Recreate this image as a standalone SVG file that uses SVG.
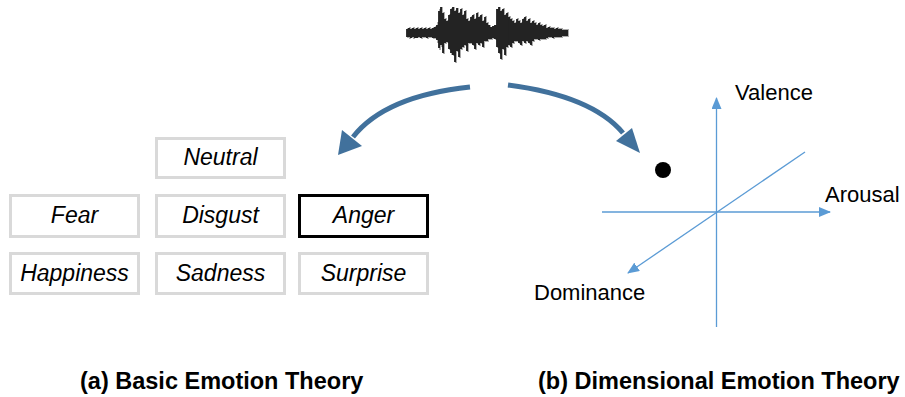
<svg xmlns="http://www.w3.org/2000/svg" width="905" height="397" viewBox="0 0 905 397">
  <style>
    .box { fill: #ffffff; stroke: #d9d9d9; stroke-width: 3; }
    .box.active { stroke: #000000; }
    .emo { font-family: "Liberation Sans", Arial, sans-serif; font-size: 23px; font-style: italic; fill: #000000; text-anchor: middle; }
    .axis { stroke: #5b9bd5; stroke-width: 1.3; fill: none; }
    .axlabel { font-family: "Liberation Sans", Arial, sans-serif; font-size: 22px; fill: #000000; }
    .caption { font-family: "Liberation Sans", Arial, sans-serif; font-size: 23.5px; font-weight: bold; fill: #000000; }
    .flow { stroke: #41719c; stroke-width: 5; fill: none; }
    .flowhead { fill: #41719c; }
  </style>
  <defs>
    <marker id="axhead" markerWidth="12" markerHeight="10" refX="11" refY="5" orient="auto" markerUnits="userSpaceOnUse">
      <path d="M0,0 L12,5 L0,10 Z" fill="#5b9bd5"/>
    </marker>
  </defs>
  <rect width="905" height="397" fill="#ffffff"/>

  <!-- speech waveform -->
  <g id="waveform">
    <path stroke="#8a8a8a" stroke-width="1.4" fill="none" d="M408 28V38 M410 27V39 M412 28V38 M414 27V39 M416 28V38 M418 27V38 M420 28V38 M422 27V39 M424 28V38 M426 27V38 M428 28V39 M430 27V38 M432 28V38 M434 27V39 M436 26V39 M438 22V43 M440 9V50 M442 7V47 M444 12V54 M446 18V44 M448 20V43 M450 14V50 M452 8V55 M454 7V56 M456 10V63 M458 8V52 M460 12V58 M462 8V50 M464 14V48 M466 10V46 M468 18V52 M470 20V44 M472 16V44 M474 14V46 M476 18V50 M478 12V44 M480 16V46 M482 14V44 M484 20V48 M486 16V42 M488 22V42 M490 25V40 M492 27V40 M494 26V39 M496 25V40 M498 9V48 M500 7V54 M502 10V60 M504 8V50 M506 14V56 M508 12V48 M510 16V46 M512 18V48 M514 20V44 M516 22V42 M518 18V42 M520 20V44 M522 22V46 M524 18V42 M526 16V44 M528 20V42 M530 18V44 M532 22V46 M534 20V42 M536 22V40 M538 24V40 M540 22V41 M542 24V40 M544 25V40 M546 24V40 M548 27V39 M550 26V38 M552 27V38 M554 27V39 M556 28V38 M558 27V38 M560 28V38 M562 28V38 M564 29V37 M566 29V37 M568 29V37"/>
    <path stroke="#000000" stroke-width="1.6" fill="none" d="M407 29V37 M409 28V37 M411 29V38 M413 28V37 M415 29V38 M417 28V38 M419 29V37 M421 28V38 M423 29V37 M425 28V37 M427 29V38 M429 28V37 M431 29V37 M433 28V38 M435 27V38 M437 25V40 M439 11V48 M441 7V45 M443 13V53 M445 19V43 M447 21V42 M449 15V49 M451 9V53 M453 7V55 M455 11V62 M457 8V51 M459 13V57 M461 9V49 M463 15V47 M465 11V45 M467 19V51 M469 21V43 M471 17V43 M473 15V45 M475 19V49 M477 13V43 M479 17V45 M481 15V43 M483 21V47 M485 17V41 M487 23V41 M489 25V39 M491 27V39 M493 26V38 M495 25V39 M497 9V47 M499 7V53 M501 11V59 M503 9V49 M505 15V55 M507 13V47 M509 17V45 M511 19V47 M513 21V43 M515 23V41 M517 19V41 M519 21V43 M521 23V45 M523 19V41 M525 17V43 M527 21V41 M529 19V43 M531 23V45 M533 21V41 M535 23V39 M537 25V39 M539 23V40 M541 25V39 M543 26V39 M545 25V39 M547 28V38 M549 27V37 M551 28V37 M553 28V38 M555 29V37 M557 28V37 M559 29V37 M561 29V37 M563 30V36 M565 30V36 M567 30V36"/>
  </g>

  <!-- basic emotion categories -->
  <g id="neutral"><rect class="box" x="156.5" y="138.5" width="128" height="39"/><text class="emo" x="220.5" y="165">Neutral</text></g>
  <g id="fear"><rect class="box" x="10.5" y="195.5" width="128" height="41"/><text class="emo" x="74.5" y="223">Fear</text></g>
  <g id="disgust"><rect class="box" x="156.5" y="195.5" width="128" height="41"/><text class="emo" x="220.5" y="223">Disgust</text></g>
  <g id="anger"><rect class="box active" x="299.5" y="195.5" width="128" height="41"/><text class="emo" x="363.5" y="223">Anger</text></g>
  <g id="happiness"><rect class="box" x="10.5" y="253.5" width="128" height="40"/><text class="emo" x="74.5" y="281">Happiness</text></g>
  <g id="sadness"><rect class="box" x="156.5" y="253.5" width="128" height="40"/><text class="emo" x="220.5" y="281">Sadness</text></g>
  <g id="surprise"><rect class="box" x="299.5" y="253.5" width="128" height="40"/><text class="emo" x="363.5" y="281">Surprise</text></g>

  <!-- emotion point in the dimensional space -->
  <g id="point"><circle cx="663" cy="170" r="8" fill="#000000"/></g>

  <!-- connectors: flow arrows and axes -->
  <g id="connectors">
    <path class="flow" d="M470 87 Q385 96 353 137"/>
    <path class="flowhead" d="M338 155 L342 130 L362 146 Z"/>
    <path class="flow" d="M508 85 Q592 96 623 133"/>
    <path class="flowhead" d="M640 153 L632 128 L616 141 Z"/>

    <line class="axis" x1="716.5" y1="327" x2="716.5" y2="98" marker-end="url(#axhead)"/>
    <line class="axis" x1="602" y1="212" x2="830" y2="212" marker-end="url(#axhead)"/>
    <line class="axis" x1="805" y1="152" x2="628" y2="273" marker-end="url(#axhead)"/>
  </g>

  <text class="axlabel" x="735" y="100">Valence</text>
  <text class="axlabel" x="825" y="202">Arousal</text>
  <text class="axlabel" x="534" y="300">Dominance</text>

  <text class="caption" x="80" y="389">(a) Basic Emotion Theory</text>
  <text class="caption" x="538" y="389">(b) Dimensional Emotion Theory</text>
</svg>
